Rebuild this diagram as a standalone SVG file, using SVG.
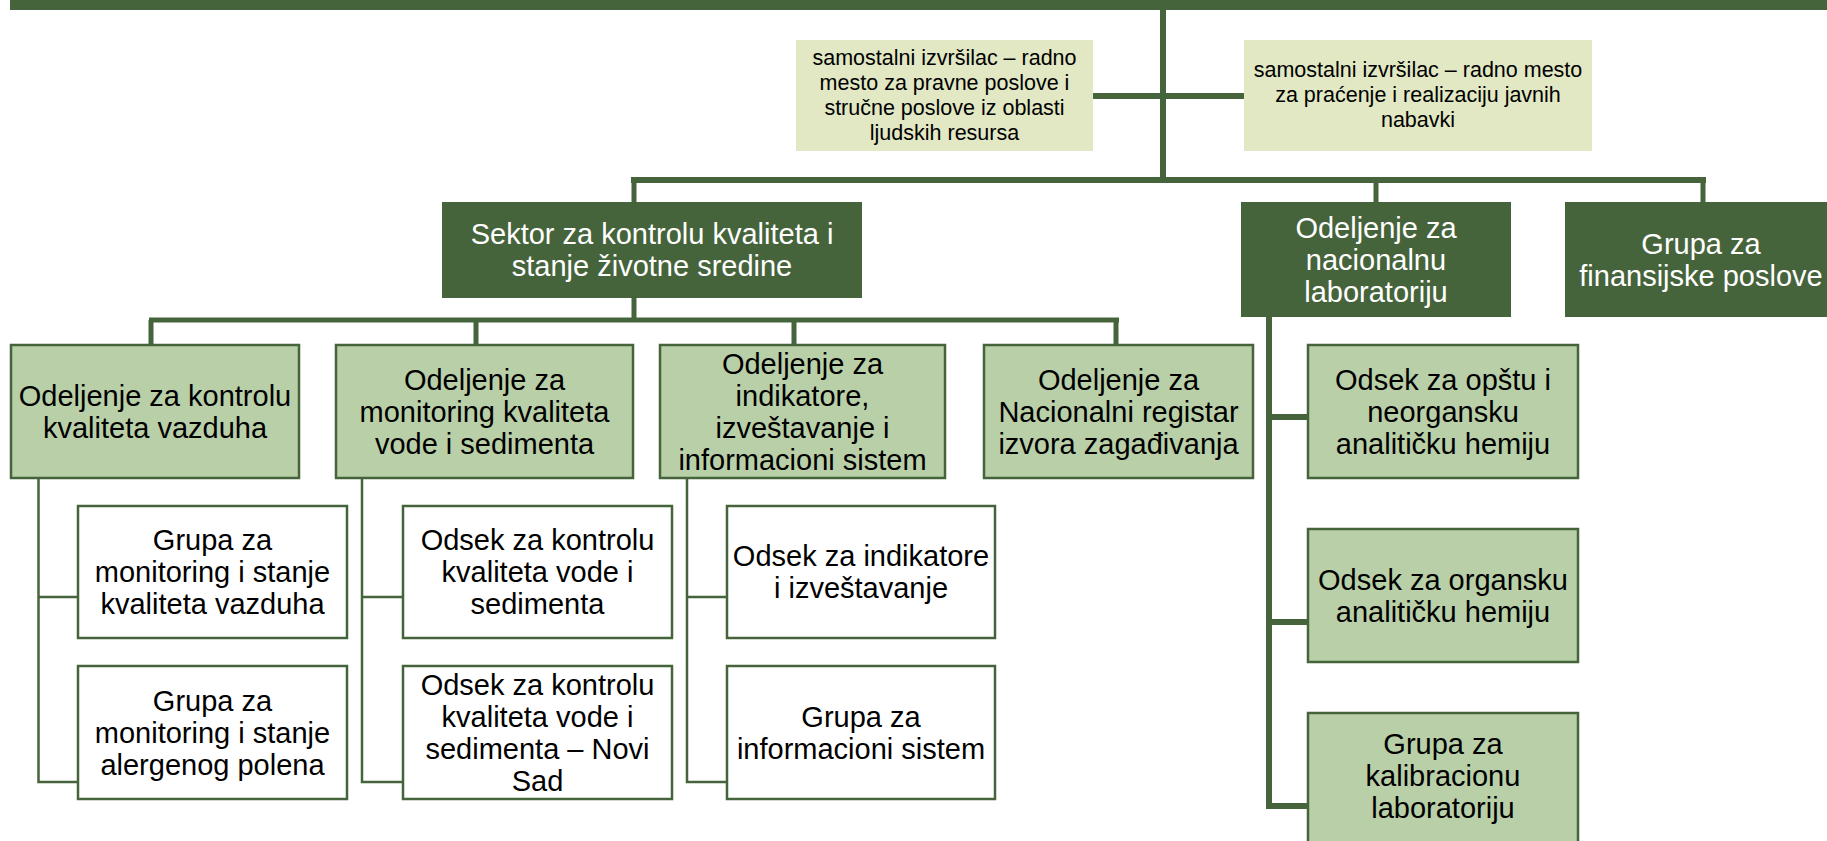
<svg xmlns="http://www.w3.org/2000/svg" width="1827" height="841" viewBox="0 0 1827 841">
<style>
.dk{fill:#46643c;}
.l2{fill:#b9cfa8;stroke:#46643c;stroke-width:2.5;}
.l3{fill:#ffffff;stroke:#46643c;stroke-width:2.5;}
.lt{fill:#e1e8c3;}
.c{stroke:#46643c;fill:none;stroke-linecap:butt;}
.thick{stroke-width:6;}
.mid{stroke-width:5;}
.thin{stroke-width:2.5;}
text{font-family:"Liberation Sans",Arial,sans-serif;text-anchor:middle;}
.t{font-size:29px;fill:#000;}
.w{font-size:29px;fill:#fff;}
.s{font-size:21.5px;fill:#000;}
</style>
<rect width="1827" height="841" fill="#ffffff"/>
<g id="top-bar"><rect class="dk" x="10" y="0" width="1817" height="10"/></g>
<g id="connectors">
<path class="c thick" d="M1163 10V180M1093 96H1244"/>
<path class="c thick" d="M631 180H1706"/>
<path class="c mid" d="M634 180V202M1376 180V202M1703 180V202"/>
<path class="c mid" d="M634 298V320M149 320H1119M151 320V345M476 320V345M794 320V345M1116 320V345"/>
<path class="c thin" d="M38.5 478V782H78M38.5 597H78"/>
<path class="c thin" d="M362 478V782H403M362 597H403"/>
<path class="c thin" d="M687 478V782H727M687 597H727"/>
<path class="c thick" d="M1269 317V809M1266 417H1308M1266 622H1308M1266 806H1308"/>
</g>
<g id="n-pravni">
<rect class="lt" x="796" y="40" width="297" height="111"/>
<text class="s" x="944.5" y="65">samostalni izvršilac – radno</text>
<text class="s" x="944.5" y="90">mesto za pravne poslove i</text>
<text class="s" x="944.5" y="115">stručne poslove iz oblasti</text>
<text class="s" x="944.5" y="140">ljudskih resursa</text>
</g>
<g id="n-nabavke">
<rect class="lt" x="1244" y="40" width="348" height="111"/>
<text class="s" x="1418" y="77">samostalni izvršilac – radno mesto</text>
<text class="s" x="1418" y="102">za praćenje i realizaciju javnih</text>
<text class="s" x="1418" y="127">nabavki</text>
</g>
<g id="n-sektor">
<rect class="dk" x="442" y="202" width="420" height="96"/>
<text class="w" x="652" y="244">Sektor za kontrolu kvaliteta i</text>
<text class="w" x="652" y="276">stanje životne sredine</text>
</g>
<g id="n-laboratorija">
<rect class="dk" x="1241" y="202" width="270" height="115"/>
<text class="w" x="1376" y="237.5">Odeljenje za</text>
<text class="w" x="1376" y="269.5">nacionalnu</text>
<text class="w" x="1376" y="301.5">laboratoriju</text>
</g>
<g id="n-finansije">
<rect class="dk" x="1565" y="202" width="276" height="115"/>
<text class="w" x="1701" y="253.5">Grupa za</text>
<text class="w" x="1701" y="285.5">finansijske poslove</text>
</g>
<g id="n-vazduh">
<rect class="l2" x="11" y="345" width="288" height="133"/>
<text class="t" x="155" y="405.5">Odeljenje za kontrolu</text>
<text class="t" x="155" y="437.5">kvaliteta vazduha</text>
</g>
<g id="n-voda">
<rect class="l2" x="336" y="345" width="297" height="133"/>
<text class="t" x="484.5" y="389.5">Odeljenje za</text>
<text class="t" x="484.5" y="421.5">monitoring kvaliteta</text>
<text class="t" x="484.5" y="453.5">vode i sedimenta</text>
</g>
<g id="n-indikatori">
<rect class="l2" x="660" y="345" width="285" height="133"/>
<text class="t" x="802.5" y="373.5">Odeljenje za</text>
<text class="t" x="802.5" y="405.5">indikatore,</text>
<text class="t" x="802.5" y="437.5">izveštavanje i</text>
<text class="t" x="802.5" y="469.5">informacioni sistem</text>
</g>
<g id="n-registar">
<rect class="l2" x="984" y="345" width="269" height="133"/>
<text class="t" x="1118.5" y="389.5">Odeljenje za</text>
<text class="t" x="1118.5" y="421.5">Nacionalni registar</text>
<text class="t" x="1118.5" y="453.5">izvora zagađivanja</text>
</g>
<g id="n-opsta">
<rect class="l2" x="1308" y="345" width="270" height="133"/>
<text class="t" x="1443" y="389.5">Odsek za opštu i</text>
<text class="t" x="1443" y="421.5">neorgansku</text>
<text class="t" x="1443" y="453.5">analitičku hemiju</text>
</g>
<g id="n-organska">
<rect class="l2" x="1308" y="529" width="270" height="133"/>
<text class="t" x="1443" y="589.5">Odsek za organsku</text>
<text class="t" x="1443" y="621.5">analitičku hemiju</text>
</g>
<g id="n-kalibracija">
<rect class="l2" x="1308" y="713" width="270" height="133"/>
<text class="t" x="1443" y="754">Grupa za</text>
<text class="t" x="1443" y="786">kalibracionu</text>
<text class="t" x="1443" y="818">laboratoriju</text>
</g>
<g id="n-g-vazduh">
<rect class="l3" x="78" y="506" width="269" height="132"/>
<text class="t" x="212.5" y="550">Grupa za</text>
<text class="t" x="212.5" y="582">monitoring i stanje</text>
<text class="t" x="212.5" y="614">kvaliteta vazduha</text>
</g>
<g id="n-g-polen">
<rect class="l3" x="78" y="666" width="269" height="133"/>
<text class="t" x="212.5" y="710.5">Grupa za</text>
<text class="t" x="212.5" y="742.5">monitoring i stanje</text>
<text class="t" x="212.5" y="774.5">alergenog polena</text>
</g>
<g id="n-o-voda">
<rect class="l3" x="403" y="506" width="269" height="132"/>
<text class="t" x="537.5" y="550">Odsek za kontrolu</text>
<text class="t" x="537.5" y="582">kvaliteta vode i</text>
<text class="t" x="537.5" y="614">sedimenta</text>
</g>
<g id="n-o-novisad">
<rect class="l3" x="403" y="666" width="269" height="133"/>
<text class="t" x="537.5" y="694.5">Odsek za kontrolu</text>
<text class="t" x="537.5" y="726.5">kvaliteta vode i</text>
<text class="t" x="537.5" y="758.5">sedimenta – Novi</text>
<text class="t" x="537.5" y="790.5">Sad</text>
</g>
<g id="n-o-indikatori">
<rect class="l3" x="727" y="506" width="268" height="132"/>
<text class="t" x="861" y="566">Odsek za indikatore</text>
<text class="t" x="861" y="598">i izveštavanje</text>
</g>
<g id="n-g-informacioni">
<rect class="l3" x="727" y="666" width="268" height="133"/>
<text class="t" x="861" y="726.5">Grupa za</text>
<text class="t" x="861" y="758.5">informacioni sistem</text>
</g>
</svg>
